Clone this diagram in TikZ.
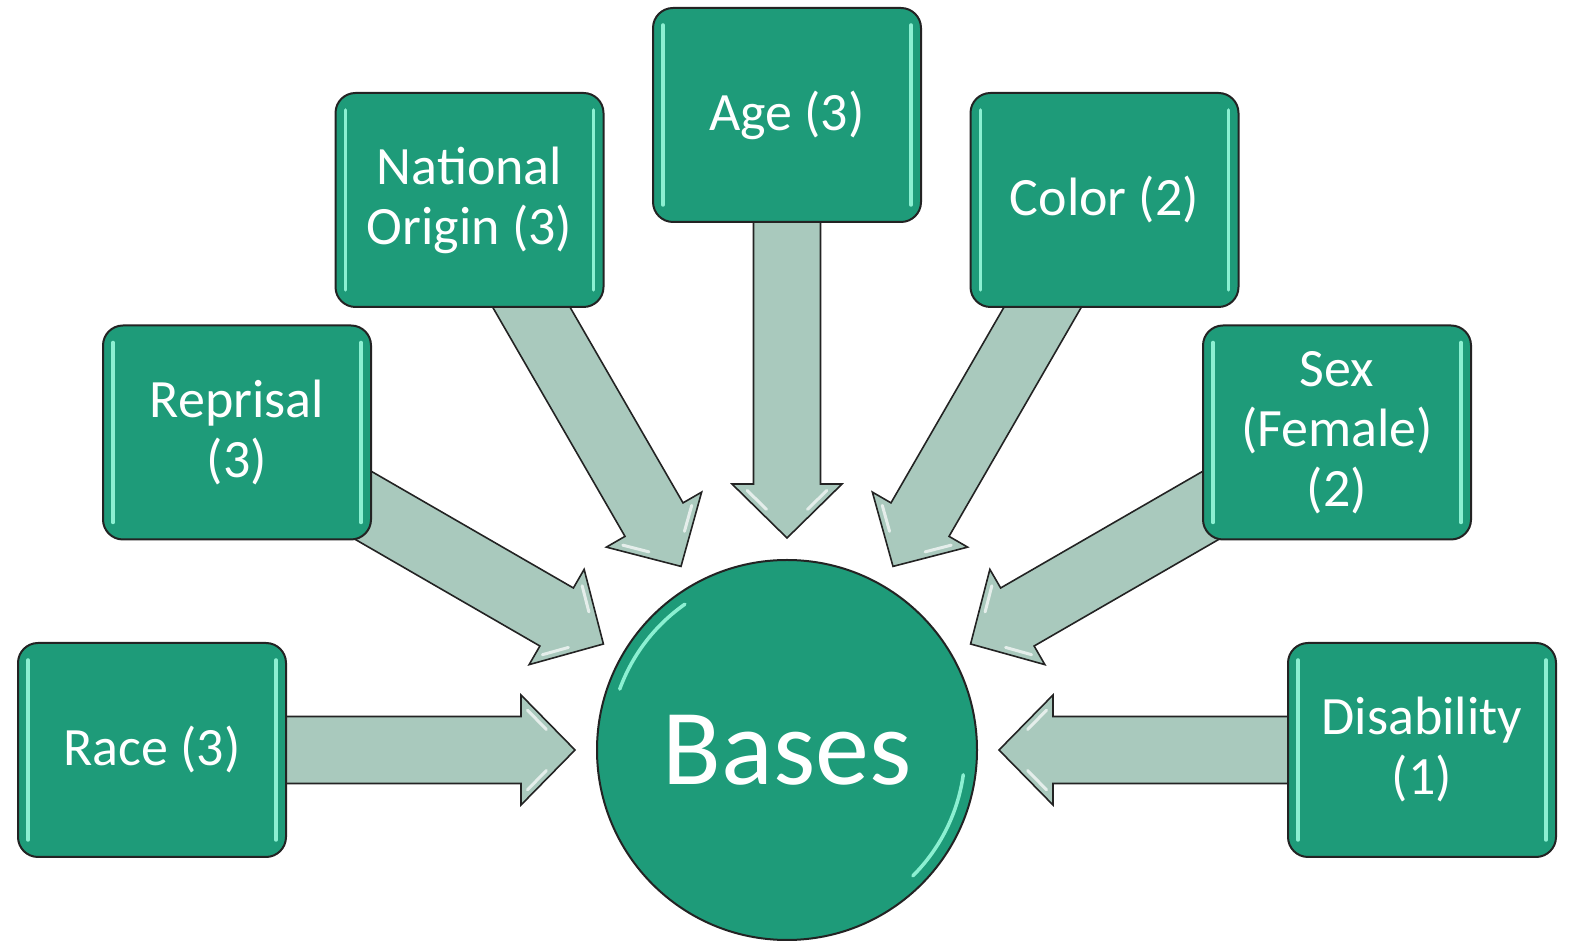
\documentclass[tikz,border=0pt]{standalone}
\usepackage{fontspec}
\setmainfont{Carlito}
\usetikzlibrary{calc}
\pgfdeclarelayer{bg}
\pgfsetlayers{bg,main}
\definecolor{boxgreen}{RGB}{30,155,121}
\definecolor{arrowfill}{RGB}{169,201,189}
\definecolor{edgedark}{RGB}{35,35,35}
\definecolor{glint}{RGB}{140,240,210}
\begin{document}
\begin{tikzpicture}[x=1pt,y=1pt,
  basebox/.style={draw=edgedark, line width=2, fill=boxgreen, rounded corners=20,
    minimum width=268, minimum height=214, text=white, align=center,
    font=\fontsize{54}{60}\selectfont, inner sep=0},
  hub/.style={circle, draw=edgedark, line width=2, fill=boxgreen, minimum size=380,
    inner sep=0, text=white, font=\fontsize{108}{120}\selectfont},
  blockarrow/.style={draw=edgedark, line width=1.6, fill=arrowfill, line join=miter},
  glintline/.style={glint, line width=3.5, line cap=round},
  headglint/.style={white, opacity=0.7, line width=3, line cap=round}]
\useasboundingbox (0,0) rectangle (1584,952);

\node[hub] (bases) at (787,202) {Bases};
\node[basebox] (race) at (152,202) {Race (3)};
\node[basebox] (reprisal) at (237,519.5) {Reprisal\\(3)};
\node[basebox] (natorigin) at (469.5,752) {National\\Origin (3)};
\node[basebox] (age) at (787,837) {Age (3)};
\node[basebox] (color) at (1104.5,752) {Color (2)};
\node[basebox] (sex) at (1337,519.5) {Sex\\(Female)\\(2)};
\node[basebox] (disab) at (1422,202) {Disability\\(1)};

% glossy inner lines on the boxes
\foreach \n in {race,reprisal,natorigin,age,color,sex,disab}{
  \draw[glintline] ($(\n.north west)+(11,-18)$) -- ($(\n.south west)+(11,18)$);
  \draw[glintline] ($(\n.north east)+(-11,-18)$) -- ($(\n.south east)+(-11,18)$);
}
% glossy arcs on the hub
\draw[glintline] ($(bases.center)+(160:178)$) arc[start angle=160, end angle=125, radius=178];
\draw[glintline] ($(bases.center)+(-8:178)$) arc[start angle=-8, end angle=-45, radius=178];

% block arrows from each box to the hub
\begin{pgfonlayer}{bg}
\foreach \n/\ang in {race/180,reprisal/150,natorigin/120,age/90,color/60,sex/30,disab/0}{
  \begin{scope}[shift={(bases.center)}, rotate=\ang]
    \draw[blockarrow] (600,33.5) -- (266,33.5) -- (266,55) -- (212,0)
      -- (266,-55) -- (266,-33.5) -- (600,-33.5) -- cycle;
    \draw[headglint] (259.5,39.8) -- (240.6,20.5);
    \draw[headglint] (259.5,-39.8) -- (240.6,-20.5);
  \end{scope}
}
\end{pgfonlayer}
\end{tikzpicture}
\end{document}
